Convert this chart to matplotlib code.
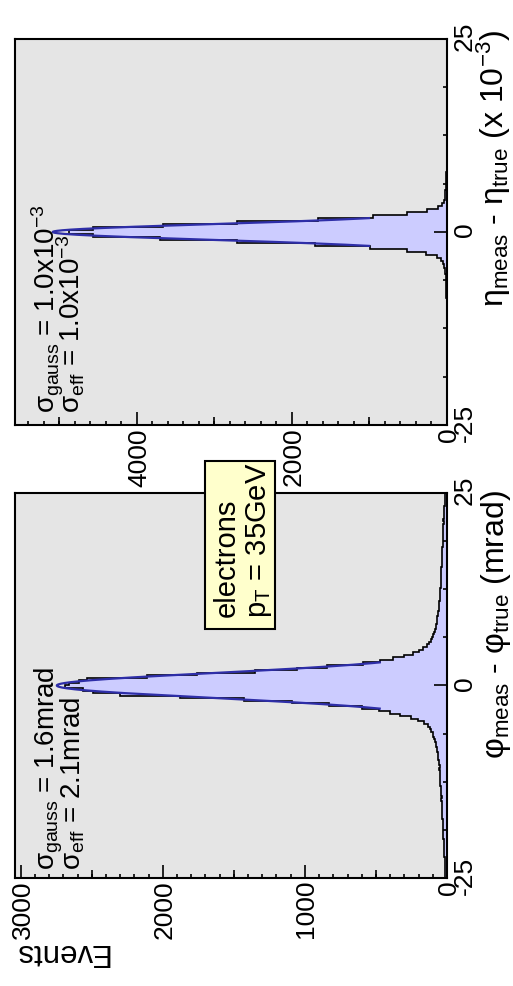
import numpy as np
import matplotlib
matplotlib.use("Agg")
import matplotlib.pyplot as plt
from matplotlib.patches import Rectangle
from matplotlib.ticker import MultipleLocator, FixedLocator

plt.rcParams['font.family'] = ['Liberation Sans', 'DejaVu Sans']
plt.rcParams['mathtext.fontset'] = 'custom'
plt.rcParams['mathtext.rm'] = 'Liberation Sans'
plt.rcParams['mathtext.it'] = 'Liberation Sans'
plt.rcParams['axes.unicode_minus'] = False

# canvas is laid out landscape, then turned a quarter turn at the end
W, H = 986, 513

# phi residuals: 150 bins, -25 .. 25 mrad
phi_range = (-25.0, 25.0)
phi_counts = [
    12, 15, 13, 14, 16, 15, 17, 16, 19, 20, 18, 21, 22, 24, 21,
    25, 27, 26, 28, 26, 30, 31, 29, 32, 33, 35, 32, 36, 38, 37,
    40, 38, 42, 43, 45, 44, 47, 46, 49, 48, 51, 50, 53, 52, 56,
    58, 61, 63, 66, 69, 72, 76, 80, 84, 90, 96, 102, 110, 120, 132,
    160, 205, 250, 330, 400, 480, 600, 830, 1090, 1430, 1876, 2298, 2488, 2565, 2690,
    2660, 2590, 2532, 2110, 1759, 1349, 1056, 845, 588, 471, 379, 300, 240, 200, 168,
    143, 125, 112, 104, 96, 90, 84, 80, 76, 72, 70, 68, 64, 60, 57,
    55, 53, 54, 50, 48, 51, 47, 48, 45, 44, 45, 42, 41, 40, 42,
    39, 38, 37, 36, 37, 34, 33, 32, 34, 31, 30, 29, 28, 29, 27,
    27, 25, 26, 24, 25, 22, 21, 20, 19, 18, 17, 16, 15, 14, 13,
]
phi_fit_amp, phi_fit_mean, phi_fit_sigma = 2746.0, 0.0, 1.6
phi_fit_range = (-3.0, 3.0)

# eta residuals (x 10^-3): 125 bins, -25 .. 25
eta_range = (-25.0, 25.0)
eta_counts = [
    0, 1, 0, 0, 1, 0, 1, 1, 0, 1, 0, 1, 1, 0, 1, 1, 2, 1, 1, 2,
    1, 2, 2, 1, 2, 2, 3, 2, 3, 3, 2, 3, 4, 3, 4, 4, 5, 5,
    5, 6, 6, 7, 8, 9, 10, 11, 13, 16, 19, 24, 30, 38, 50, 75,
    125, 270, 520, 993, 1703, 2714, 3703, 4564,
    4880,
    4564, 3661, 2714, 1661, 951, 520, 262, 110,
    60, 42, 31, 25, 20, 16, 13, 11, 9, 8, 7, 6, 6, 5, 4, 4,
    4, 3, 3, 3, 2, 3, 2, 2, 2, 1, 2, 1, 1, 2, 1, 1, 1, 0, 1, 1,
    0, 1, 0, 1, 0, 0, 1, 0, 0, 1, 0, 0, 0, 1, 0, 0, 0, 0,
]
eta_fit_amp, eta_fit_mean, eta_fit_sigma = 5084.0, 0.0, 1.0
eta_fit_range = (-1.8, 1.8)


def px(x, y):
    return x / W, 1 - y / H


def draw_panel(ax, counts, xr, amp, mean, sigma, fr, ymax, ymajor, ymed, yminor):
    edges = np.linspace(xr[0], xr[1], len(counts) + 1)
    ax.set_facecolor('#e5e5e5')
    ax.stairs(counts, edges, fill=True, color='#ccccff', lw=0)
    ax.stairs(counts, edges, color='black', lw=1.2)
    xf = np.linspace(fr[0], fr[1], 400)
    ax.plot(xf, amp * np.exp(-0.5 * ((xf - mean) / sigma) ** 2), color='#2e2ea8', lw=1.6)
    ax.set_xlim(*xr)
    ax.set_ylim(0, ymax)

    ax.xaxis.set_major_locator(FixedLocator([-25, 0, 25]))
    ax.xaxis.set_minor_locator(FixedLocator([-18.75, -12.5, -6.25, 6.25, 12.5, 18.75]))
    ax.yaxis.set_major_locator(MultipleLocator(ymajor))
    ax.yaxis.set_minor_locator(MultipleLocator(yminor))
    ax.tick_params(which='both', direction='in', top=False, right=False,
                   labelsize=19, width=1.2)
    ax.tick_params(which='major', length=9.4)
    ax.tick_params(which='minor', length=3)
    ax.tick_params(axis='x', pad=4)
    ax.tick_params(axis='y', pad=3.5)
    for s in ax.spines.values():
        s.set_linewidth(1.5)

    # intermediate ticks between labelled ones
    sec = ax.secondary_yaxis('left')
    sec.set_yticks(np.arange(ymed, ymax, ymajor))
    sec.tick_params(direction='in', length=5.5, width=1.2, labelleft=False)
    sec.spines['left'].set_visible(False)


fig = plt.figure(figsize=(W / 100, H / 100), dpi=100)
ax1 = fig.add_axes([108 / W, 66 / H, 385 / W, 432 / H])
ax2 = fig.add_axes([561 / W, 66 / H, 386 / W, 432 / H])

draw_panel(ax1, phi_counts, phi_range, phi_fit_amp, phi_fit_mean, phi_fit_sigma,
           phi_fit_range, 3040, 1000, 500, 100)
draw_panel(ax2, eta_counts, eta_range, eta_fit_amp, eta_fit_mean, eta_fit_sigma,
           eta_fit_range, 5570, 2000, 1000, 200)

fig.text(*px(30, 14), 'Events', rotation=90, ha='center', va='top', fontsize=22.5)

fig.text(*px(495, 503), r'$\mathrm{φ_{meas}}$ - $\mathrm{φ_{true}}$ (mrad)',
         ha='right', va='baseline', fontsize=23)
fig.text(*px(955, 503), r'$\mathrm{η_{meas}}$ - $\mathrm{η_{true}}$ (x 10$^{-3}$)',
         ha='right', va='baseline', fontsize=23)

fig.text(*px(115, 53), r'$\mathrm{σ_{gauss}}$ = 1.6mrad', va='baseline', fontsize=20)
fig.text(*px(115, 80), r'$\mathrm{σ_{eff}}$ = 2.1mrad', va='baseline', fontsize=20)
fig.text(*px(572, 55), r'$\mathrm{σ_{gauss}}$ = 1.0x10$^{-3}$', va='baseline', fontsize=20)
fig.text(*px(572, 80), r'$\mathrm{σ_{eff}}$ = 1.0x10$^{-3}$', va='baseline', fontsize=20)

# label box for the sample
box = Rectangle(px(357, 275), 168 / W, 70 / H, transform=fig.transFigure,
                facecolor='#ffffcc', edgecolor='black', lw=1.5, zorder=5)
fig.add_artist(box)
fig.text(*px(367, 235), 'electrons', va='baseline', fontsize=21, zorder=6)
fig.text(*px(367, 265), r'p$_\mathrm{T}$ = 35GeV', va='baseline', fontsize=21, zorder=6)

fig.canvas.draw()
img = np.asarray(fig.canvas.buffer_rgba())
plt.imsave('out.png', np.rot90(img))
